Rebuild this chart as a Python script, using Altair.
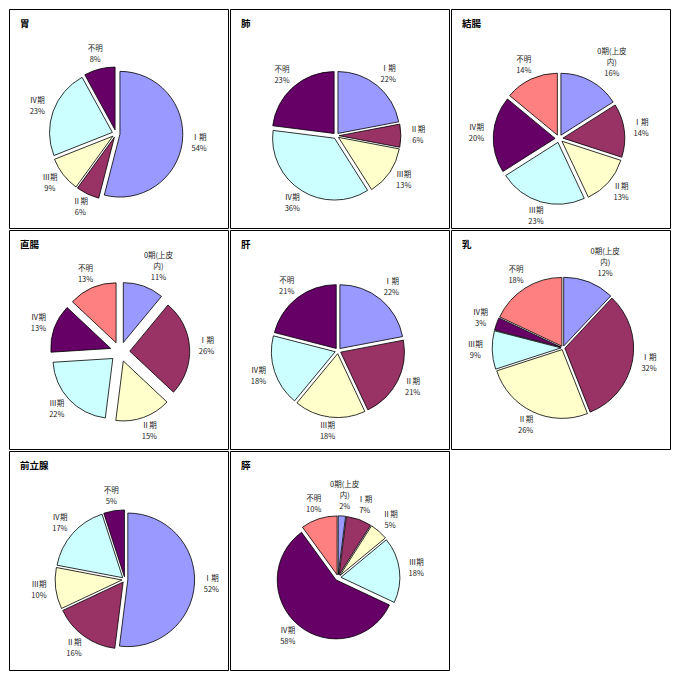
import math
import altair as alt
import pandas as pd

# ---------------- data ----------------
titles = ["胃", "肺", "結腸", "直腸", "肝", "乳", "前立腺", "膵"]
stages_5 = ["Ⅰ期", "Ⅱ期", "Ⅲ期", "Ⅳ期", "不明"]
stages_6 = ["0期(上皮内)", "Ⅰ期", "Ⅱ期", "Ⅲ期", "Ⅳ期", "不明"]

stomach = [54, 6, 9, 23, 8]
lung = [22, 6, 13, 36, 23]
colon = [16, 14, 13, 23, 20, 14]
rectum = [11, 26, 15, 22, 13, 13]
liver = [22, 21, 18, 18, 21]
breast = [12, 32, 26, 9, 3, 18]
prostate = [52, 16, 10, 17, 5]
pancreas = [2, 7, 5, 18, 58, 10]

series = [stomach, lung, colon, rectum, liver, breast, prostate, pancreas]

# ---------------- style / layout ----------------
palette = ["#9999FF", "#993366", "#FFFFCC", "#CCFFFF", "#660066", "#FF8080"]
label_break = {"0期(上皮内)": "0期(上皮\n内)"}

W = 219
H = 219
S = W / 223.0
LH = 11
# per-panel pie centre (reference px), radius, explosion distance
centers = [(109, 127), (108, 129), (110, 132), (113, 124), (110, 123), (114, 120), (118, 131), (110, 129)]
radii = [64, 63, 63, 61, 65, 70, 68, 60]
explode = [4, 3, 4, 10, 3, 2, 3, 3]

FONT = "Noto Sans CJK JP"


def panel(title, values, cxy, R, D):
    stages = stages_6 if len(values) == 6 else stages_5
    df = pd.DataFrame({
        "stage": stages,
        "value": values,
        "idx": list(range(len(values))),
        "lab": [label_break.get(s, s) for s in stages],
    })
    cx, cy = cxy[0] * S, cxy[1] * S
    r = R * S
    d = D * S
    gap = 4 * S
    rl = r + d + gap
    base = (
        alt.Chart(df)
        .transform_joinaggregate(total="sum(value)")
        .transform_window(cum="sum(value)", sort=[alt.SortField("idx")], frame=[None, 0])
        .transform_calculate(
            t0="(datum.cum - datum.value) / datum.total",
            t1="datum.cum / datum.total",
        )
        .transform_calculate(mid="PI * (datum.t0 + datum.t1)")
        .transform_calculate(
            px=f"{cx} + {d} * sin(datum.mid)",
            py=f"{cy} - {d} * cos(datum.mid)",
            label="datum.lab + '\\n' + datum.value + '%'",
            nl="length(split(datum.lab, '\\n')) + 1",
        )
        .transform_calculate(hw="datum.nl > 2 ? 40 : 13")
        .transform_calculate(
            lx=f"{cx} + ({rl} + datum.hw) * sin(datum.mid)",
            ly=f"{cy} - ({rl} + {LH / 2} * datum.nl) * cos(datum.mid) - (datum.nl - 1) * {LH / 2}",
        )
    )
    xs = alt.Scale(domain=[0, W], nice=False, zero=False)
    ys = alt.Scale(domain=[0, H], nice=False, zero=False, reverse=True)
    arcs = base.mark_arc(radius=r, stroke="black", strokeWidth=0.8).encode(
        theta=alt.Theta("t0:Q", scale=alt.Scale(domain=[0, 1], range=[0, 2 * math.pi]), stack=None),
        theta2="t1:Q",
        x=alt.X("px:Q", scale=xs, axis=None),
        y=alt.Y("py:Q", scale=ys, axis=None),
        color=alt.Color("idx:O", scale=alt.Scale(domain=list(range(6)), range=palette), legend=None),
        order=alt.Order("idx:Q"),
    )
    labels = base.mark_text(
        lineBreak="\n", fontSize=7.5, lineHeight=LH, align="center", baseline="middle",
        color="#222222", font=FONT,
    ).encode(
        x=alt.X("lx:Q", scale=xs, axis=None),
        y=alt.Y("ly:Q", scale=ys, axis=None),
        text="label:N",
    )
    ttl = alt.Chart(pd.DataFrame({"t": [title]})).mark_text(
        align="left", baseline="alphabetic", fontSize=9.5, fontWeight="bold", color="black", font=FONT,
    ).encode(x=alt.value(11), y=alt.value(18), text="t:N")
    return alt.layer(arcs, labels, ttl).properties(width=W, height=H)


panels = [panel(t, v, c, r, e) for t, v, c, r, e in zip(titles, series, centers, radii, explode)]

chart = (
    alt.concat(*panels, columns=3, spacing=2, bounds="flush")
    .properties(padding=0)
    .configure_view(stroke="black", strokeWidth=1)
)

chart.save("out.html", embed_options={"renderer": "svg", "actions": False})
